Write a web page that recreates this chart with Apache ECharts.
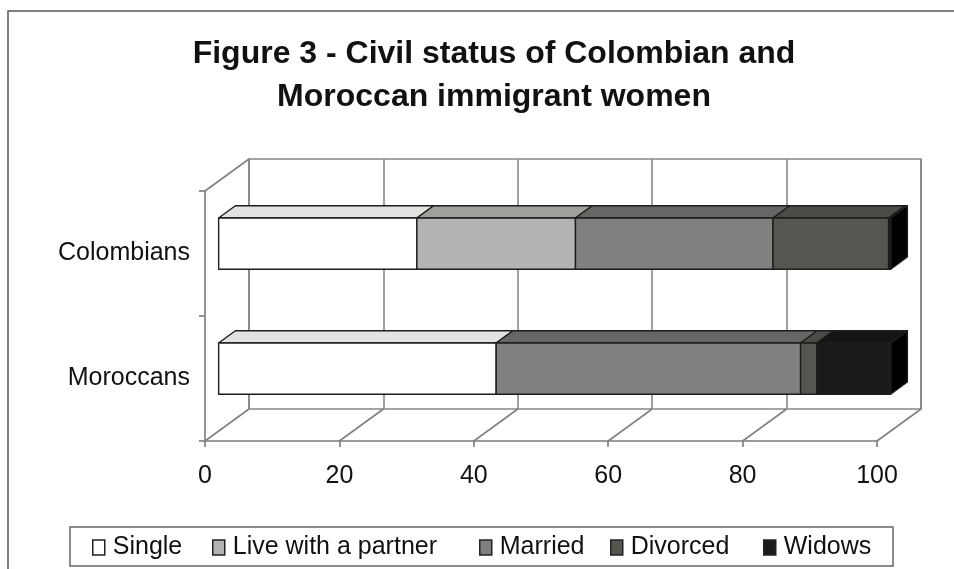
<!DOCTYPE html>
<html>
<head>
<meta charset="utf-8">
<script src="https://cdn.jsdelivr.net/npm/echarts@6/dist/echarts.min.js"></script>
<style>
  html, body { margin: 0; padding: 0; background: #fff; }
  #chart { width: 954px; height: 569px; }
</style>
</head>
<body>
<div id="chart"></div>
<script>
// data (percent)
var categories = ['Moroccans', 'Colombians'];
var seriesNames = ['Single', 'Live with a partner', 'Married', 'Divorced', 'Widows'];
var single   = [41.3, 29.5];
var partner  = [0,    23.6];
var married  = [45.3, 29.4];
var divorced = [2.4,  17.2];
var widows   = [11.0, 0.3];
var ticks    = [0, 20, 40, 60, 80, 100];

var values = [single, partner, married, divorced, widows];

// faces: front / top / side
var frontColor = ['#ffffff', '#b3b3b3', '#808080', '#55564f', '#1a1a1a'];
var topColor   = ['#e2e3e0', '#a0a09a', '#676665', '#4b4b47', '#141414'];
var sideColor  = ['#c8c8c8', '#8a8a86', '#555555', '#33332f', '#000000'];

var FONT = '"Liberation Sans", Arial, sans-serif';
var DX = 44, DY = -32;      // depth of the 3d box
var F1 = 0.31, F2 = 0.69;   // bar position inside the depth
var EDGE = '#1a1f1b';

var chart = echarts.init(document.getElementById('chart'));

// stacked start / end for each segment
function stackData(s) {
  var out = [];
  for (var i = 0; i < categories.length; i++) {
    var start = 0;
    for (var k = 0; k < s; k++) start += values[k][i];
    out.push([start, start + values[s][i], i]);
  }
  return out;
}

function barItem(s) {
  return function (params, api) {
    var start = api.value(0), end = api.value(1), cat = api.value(2);
    if (end - start <= 0) return;
    var a = api.coord([start, cat]);
    var b = api.coord([end, cat]);
    var band = api.size([0, 1])[1];
    var h = band * 0.41;
    var x0 = a[0] + DX * F1, x1 = b[0] + DX * F1;
    var yc = a[1] + DY * F1;
    var yt = yc - h / 2, yb = yc + h / 2;
    var ddx = DX * (F2 - F1), ddy = DY * (F2 - F1);
    var st = { stroke: EDGE, lineWidth: 1.4, lineJoin: 'round' };
    return {
      type: 'group',
      children: [
        { type: 'polygon', shape: { points: [[x1, yt], [x1 + ddx, yt + ddy], [x1 + ddx, yb + ddy], [x1, yb]] },
          style: Object.assign({ fill: sideColor[s] }, st) },
        { type: 'polygon', shape: { points: [[x0, yt], [x0 + ddx, yt + ddy], [x1 + ddx, yt + ddy], [x1, yt]] },
          style: Object.assign({ fill: topColor[s] }, st) },
        { type: 'rect', shape: { x: x0, y: yt, width: x1 - x0, height: h },
          style: Object.assign({ fill: frontColor[s] }, st) }
      ]
    };
  };
}

// floor diagonals + left wall top edge
function floorItem(params, api) {
  var v = api.value(0);
  var band = api.size([0, 1])[1];
  var bottom = api.coord([v, 0])[1] + band / 2;
  var x = api.coord([v, 0])[0];
  var ls = { stroke: '#808080', lineWidth: 1.6 };
  var children = [
    { type: 'line', shape: { x1: x, y1: bottom, x2: x + DX, y2: bottom + DY }, style: ls }
  ];
  if (params.dataIndex === 0) {
    var top = api.coord([v, categories.length - 1])[1] - band / 2;
    children.push({ type: 'line', shape: { x1: x, y1: top, x2: x + DX, y2: top + DY }, style: ls });
  }
  return { type: 'group', children: children };
}

var legendLeft = [92, 212, 479, 610, 763];

var series = seriesNames.map(function (name, s) {
  return {
    name: name,
    type: 'custom',
    xAxisIndex: 0,
    yAxisIndex: 0,
    renderItem: barItem(s),
    encode: { x: [0, 1], y: 2 },
    itemStyle: { color: frontColor[s] },
    data: stackData(s),
    z: 5
  };
});
series.unshift({
  name: 'floor',
  type: 'custom',
  xAxisIndex: 0,
  yAxisIndex: 0,
  renderItem: floorItem,
  encode: { x: 0 },
  data: ticks.map(function (t) { return [t]; }),
  silent: true,
  z: 1
});

var option = {
  animation: false,
  title: {
    text: 'Figure 3 - Civil status of Colombian and\nMoroccan immigrant women',
    left: 489,
    top: 28,
    textAlign: 'center',
    textStyle: { fontFamily: FONT, fontSize: 32, fontWeight: 'bold', color: '#111', lineHeight: 43 }
  },
  legend: seriesNames.map(function (name, s) {
    return {
      data: [{ name: name, itemStyle: { color: frontColor[s], borderColor: '#222', borderWidth: 1.5 } }],
      left: legendLeft[s],
      top: 535,
      padding: 0,
      icon: 'rect',
      itemWidth: 12,
      itemHeight: 15,
      selectedMode: false,
      textStyle: { fontFamily: FONT, fontSize: 25, color: '#111', padding: [0, 0, 0, 3] }
    };
  }),
  grid: [
    { left: 205, right: 77, top: 191, bottom: 128 },
    { left: 249, right: 33, top: 159, bottom: 160, show: true, borderColor: '#888', borderWidth: 1.6, backgroundColor: 'transparent' }
  ],
  xAxis: [
    {
      type: 'value', gridIndex: 0, min: 0, max: 100, interval: 20,
      axisLine: { show: true, lineStyle: { color: '#7a7a7a', width: 1.6 } },
      axisTick: { show: true, length: 6, lineStyle: { color: '#7a7a7a', width: 1.6 } },
      splitLine: { show: false },
      axisLabel: { fontFamily: FONT, fontSize: 25, color: '#111', margin: 23 }
    },
    {
      type: 'value', gridIndex: 1, min: 0, max: 100, interval: 20,
      axisLine: { show: false }, axisTick: { show: false }, axisLabel: { show: false },
      splitLine: { show: true, lineStyle: { color: '#888', width: 1.6 } }
    }
  ],
  yAxis: [
    {
      type: 'category', gridIndex: 0, data: categories,
      axisLine: { show: true, lineStyle: { color: '#7a7a7a', width: 1.6 } },
      axisTick: { show: true, length: 6, lineStyle: { color: '#7a7a7a', width: 1.6 } },
      splitLine: { show: false },
      axisLabel: { fontFamily: FONT, fontSize: 25, color: '#111', margin: 15, padding: [12, 0, 0, 0] }
    },
    { type: 'value', gridIndex: 1, show: false, min: 0, max: 1 }
  ],
  graphic: [
    { type: 'rect', shape: { x: 8, y: 11, width: 980, height: 600 }, style: { fill: 'none', stroke: '#555', lineWidth: 1.5 }, silent: true },
    { type: 'rect', shape: { x: 70, y: 527, width: 823, height: 39 }, style: { fill: 'none', stroke: '#666', lineWidth: 1.5 }, silent: true }
  ],
  series: series
};

chart.setOption(option);
</script>
</body>
</html>
